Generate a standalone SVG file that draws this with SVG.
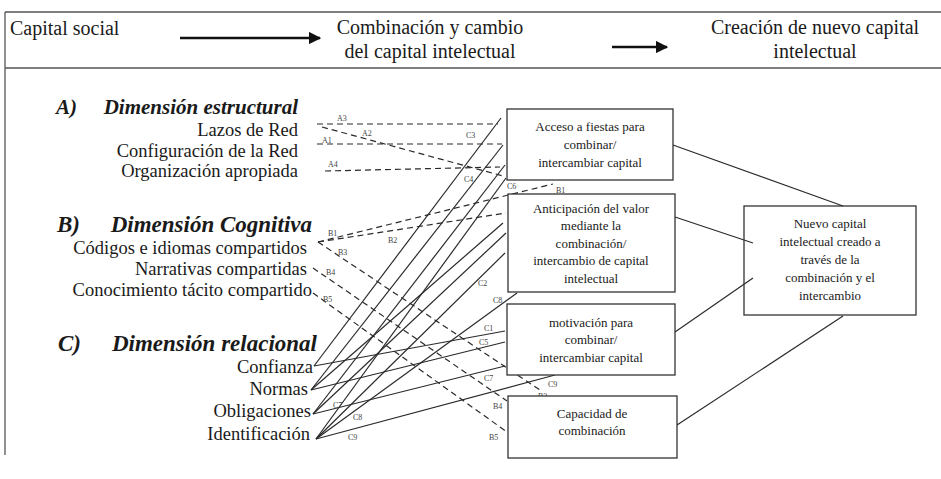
<svg xmlns="http://www.w3.org/2000/svg" width="941" height="479" viewBox="0 0 941 479" font-family="'Liberation Serif', 'DejaVu Serif', serif">
<style>
text{font-family:'Liberation Serif','DejaVu Serif',serif;fill:#1a1a1a}
.hd{font-size:20px}
.dim{font-size:21px;font-weight:bold;font-style:italic}
.dimL{font-size:23px;font-weight:bold;font-style:italic}
.it{font-size:18.5px;text-anchor:end}
.bx{font-size:13px;text-anchor:middle}
.lb{font-size:8px;fill:#444}
.frame{stroke:#555;stroke-width:1.3;fill:none}
.box{fill:#fff;stroke:#333;stroke-width:1.3}
.box5{fill:none;stroke:#333;stroke-width:1.3}
.s{stroke:#2a2a2a;stroke-width:1.2;fill:none}
.d{stroke:#2a2a2a;stroke-width:1.2;fill:none;stroke-dasharray:6 4}
</style>
<defs>
<marker id="ah" viewBox="0 0 10 10" refX="9" refY="5" markerWidth="5" markerHeight="5" orient="auto" markerUnits="strokeWidth">
<path d="M0,0 L10,5 L0,10 z" fill="#111"/>
</marker>
</defs>
<rect width="941" height="479" fill="#fff"/>
<g id="header">
<line class="frame" x1="5" y1="12" x2="941" y2="12"/>
<line class="frame" x1="5" y1="68" x2="941" y2="68"/>
<line class="frame" x1="5" y1="12" x2="5" y2="455"/>
<text class="hd" x="10" y="35">Capital social</text>
<text class="hd" x="430" y="34" text-anchor="middle">Combinación y cambio</text>
<text class="hd" x="430" y="58" text-anchor="middle">del capital intelectual</text>
<text class="hd" x="815" y="34" text-anchor="middle">Creación de nuevo capital</text>
<text class="hd" x="815" y="58" text-anchor="middle">intelectual</text>
<line x1="180" y1="38" x2="320" y2="38" stroke="#111" stroke-width="2.5" marker-end="url(#ah)"/>
<line x1="612" y1="47" x2="667" y2="47" stroke="#111" stroke-width="2.5" marker-end="url(#ah)"/>
</g>
<g id="dim-estructural">
<text class="dim" x="56" y="114">A)</text>
<text class="dim" x="298" y="114" text-anchor="end">Dimensión estructural</text>
<text class="it" x="298" y="136">Lazos de Red</text>
<text class="it" x="298" y="157">Configuración de la Red</text>
<text class="it" x="298" y="177">Organización apropiada</text>
</g>
<g id="dim-cognitiva">
<text class="dimL" x="57" y="232">B)</text>
<text class="dimL" x="312" y="232" text-anchor="end">Dimensión Cognitiva</text>
<text class="it" x="307" y="254">Códigos e idiomas compartidos</text>
<text class="it" x="307" y="275">Narrativas compartidas</text>
<text class="it" x="312" y="296">Conocimiento tácito compartido</text>
</g>
<g id="dim-relacional">
<text class="dimL" x="58" y="351">C)</text>
<text class="dimL" x="317" y="351" text-anchor="end">Dimensión relacional</text>
<text class="it" x="313" y="373">Confianza</text>
<text class="it" x="308" y="395">Normas</text>
<text class="it" x="311" y="417">Obligaciones</text>
<text class="it" x="310" y="440">Identificación</text>
</g>
<g id="connectors">
<line class="d" x1="317" y1="124" x2="498" y2="124"/>
<line class="d" x1="322" y1="127" x2="503" y2="176"/>
<line class="d" x1="317" y1="144" x2="502" y2="144"/>
<line class="d" x1="325" y1="171" x2="500" y2="167"/>
<line class="d" x1="318" y1="242" x2="553" y2="184"/>
<line class="d" x1="318" y1="242" x2="506" y2="213"/>
<line class="d" x1="318" y1="242" x2="540" y2="390"/>
<line class="d" x1="313" y1="268" x2="507" y2="401"/>
<line class="d" x1="313" y1="293" x2="507" y2="432"/>
<line class="s" x1="314" y1="366" x2="501" y2="118"/>
<line class="s" x1="311" y1="390" x2="503" y2="145"/>
<line class="s" x1="313" y1="414" x2="505" y2="165"/>
<line class="s" x1="316" y1="439" x2="506" y2="178"/>
<line class="s" x1="311" y1="390" x2="503" y2="223"/>
<line class="s" x1="313" y1="414" x2="506" y2="233"/>
<line class="s" x1="316" y1="439" x2="505" y2="253"/>
<line class="s" x1="316" y1="439" x2="517" y2="293"/>
<line class="s" x1="314" y1="366" x2="505" y2="331"/>
<line class="s" x1="311" y1="390" x2="505" y2="342"/>
<line class="s" x1="313" y1="414" x2="505" y2="366"/>
<line class="s" x1="316" y1="439" x2="555" y2="375"/>
<line class="s" x1="673" y1="145" x2="843" y2="206"/>
<line class="s" x1="675" y1="217" x2="753" y2="243"/>
<line class="s" x1="675" y1="332" x2="753" y2="278"/>
<line class="s" x1="677" y1="425" x2="843" y2="316"/>
<text class="lb" x="337" y="121">A3</text>
<text class="lb" x="362" y="136">A2</text>
<text class="lb" x="322" y="143">A1</text>
<text class="lb" x="328" y="167">A4</text>
<text class="lb" x="466" y="138">C3</text>
<text class="lb" x="464" y="182">C4</text>
<text class="lb" x="507" y="189">C6</text>
<text class="lb" x="556" y="193">B1</text>
<text class="lb" x="328" y="236">B1</text>
<text class="lb" x="388" y="243">B2</text>
<text class="lb" x="338" y="255">B3</text>
<text class="lb" x="326" y="275">B4</text>
<text class="lb" x="323" y="302">B5</text>
<text class="lb" x="478" y="286">C2</text>
<text class="lb" x="493" y="303">C8</text>
<text class="lb" x="484" y="331">C1</text>
<text class="lb" x="479" y="345">C5</text>
<text class="lb" x="484" y="381">C7</text>
<text class="lb" x="548" y="387">C9</text>
<text class="lb" x="538" y="399">B3</text>
<text class="lb" x="493" y="409">B4</text>
<text class="lb" x="489" y="440">B5</text>
<text class="lb" x="333" y="408">C7</text>
<text class="lb" x="353" y="420">C8</text>
<text class="lb" x="348" y="440">C9</text>
</g>
<g id="box-acceso">
<rect class="box" x="507" y="109" width="166" height="71"/>
<text class="bx" x="590" y="131">Acceso a fiestas para</text>
<text class="bx" x="590" y="149">combinar/</text>
<text class="bx" x="590" y="167">intercambiar capital</text>
</g>
<g id="box-anticipacion">
<rect class="box" x="508" y="194" width="167" height="98"/>
<text class="bx" x="591" y="213">Anticipación del valor</text>
<text class="bx" x="591" y="230">mediante la</text>
<text class="bx" x="591" y="248">combinación/</text>
<text class="bx" x="591" y="265">intercambio de capital</text>
<text class="bx" x="591" y="283">intelectual</text>
</g>
<g id="box-motivacion">
<rect class="box" x="507" y="304" width="168" height="71"/>
<text class="bx" x="591" y="327">motivación para</text>
<text class="bx" x="591" y="344">combinar/</text>
<text class="bx" x="591" y="362">intercambiar capital</text>
</g>
<g id="box-capacidad">
<rect class="box" x="508" y="396" width="169" height="62"/>
<text class="bx" x="592" y="418">Capacidad de</text>
<text class="bx" x="592" y="435">combinación</text>
</g>
<g id="box-nuevo">
<rect class="box5" x="744" y="206" width="172" height="109"/>
<text class="bx" x="830" y="228">Nuevo capital</text>
<text class="bx" x="830" y="246">intelectual creado a</text>
<text class="bx" x="830" y="264">través de la</text>
<text class="bx" x="830" y="282">combinación y el</text>
<text class="bx" x="830" y="300">intercambio</text>
</g>
</svg>
